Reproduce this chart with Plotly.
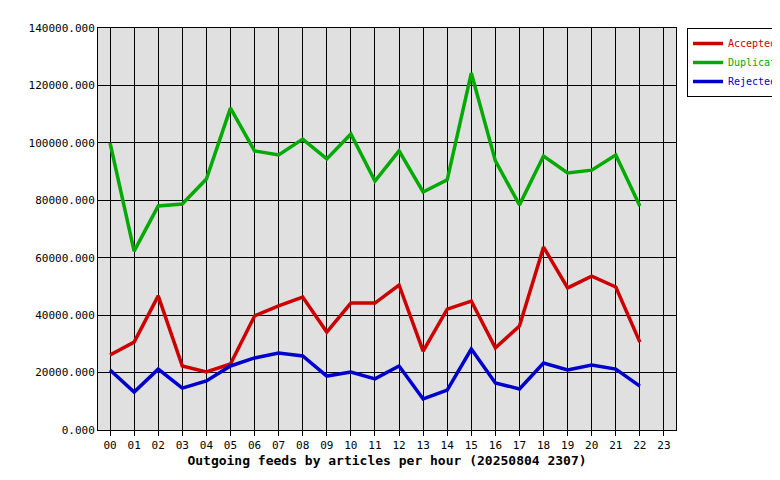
import plotly.graph_objects as go

hours = [f"{h:02d}" for h in range(24)]
accepted = [26100,30600,46700,22300,20200,23000,39700,43200,46300,34100,44200,44200,50500,27500,42100,44900,28600,36200,63700,49500,53600,49800,30600]
duplicates = [100000,62300,78000,78700,87400,112100,97200,95800,101300,94400,103100,86700,97200,82900,87100,124300,93700,78400,95400,89500,90500,95800,78000]
rejected = [20900,13200,21200,14600,17100,22300,25100,26800,25800,18800,20200,17800,22300,10800,13900,28200,16400,14300,23300,20900,22600,21200,15300]
yticks = list(range(0, 140001, 20000))

fig = go.Figure()
for name, vals, col in [("Accepted", accepted, "#cc0000"), ("Duplicates", duplicates, "#00aa00"), ("Rejected", rejected, "#0000cc")]:
    fig.add_trace(go.Scatter(x=list(range(len(vals))), y=vals,
                             name=f'<span style="color:{col}">{name}</span>', mode="lines",
                             line=dict(color=col, width=3.5)))

fig.update_layout(
    width=780, height=480, margin=dict(l=90, r=112, t=20, b=58, autoexpand=False),
    paper_bgcolor="white", plot_bgcolor="#e0e0e0",
    font=dict(family="DejaVu Sans Mono", size=11, color="black"),
    legend=dict(x=1.019, y=1, xanchor="left", yanchor="top", bordercolor="black", borderwidth=1,
                bgcolor="white", font=dict(size=10), tracegroupgap=0, itemwidth=30),
    showlegend=True,
)
fig.update_xaxes(range=[-0.5, 23.5], tickvals=list(range(24)), ticktext=hours, showgrid=True,
                 gridcolor="black", gridwidth=1, showline=True, linecolor="black", mirror=True,
                 ticks="outside", ticklen=5, tickcolor="black", zeroline=False, automargin=False,
                 title=dict(text="<b>Outgoing feeds by articles per hour (20250804 2307)</b>", standoff=4))
fig.update_yaxes(range=[0, 140000], tickvals=yticks, ticktext=[f"{v}.000" if v else "0.000" for v in yticks],
                 showgrid=True, gridcolor="black", gridwidth=1, showline=True, linecolor="black", mirror=True,
                 zeroline=False, ticks="", automargin=False)
fig.write_html("out.html")
